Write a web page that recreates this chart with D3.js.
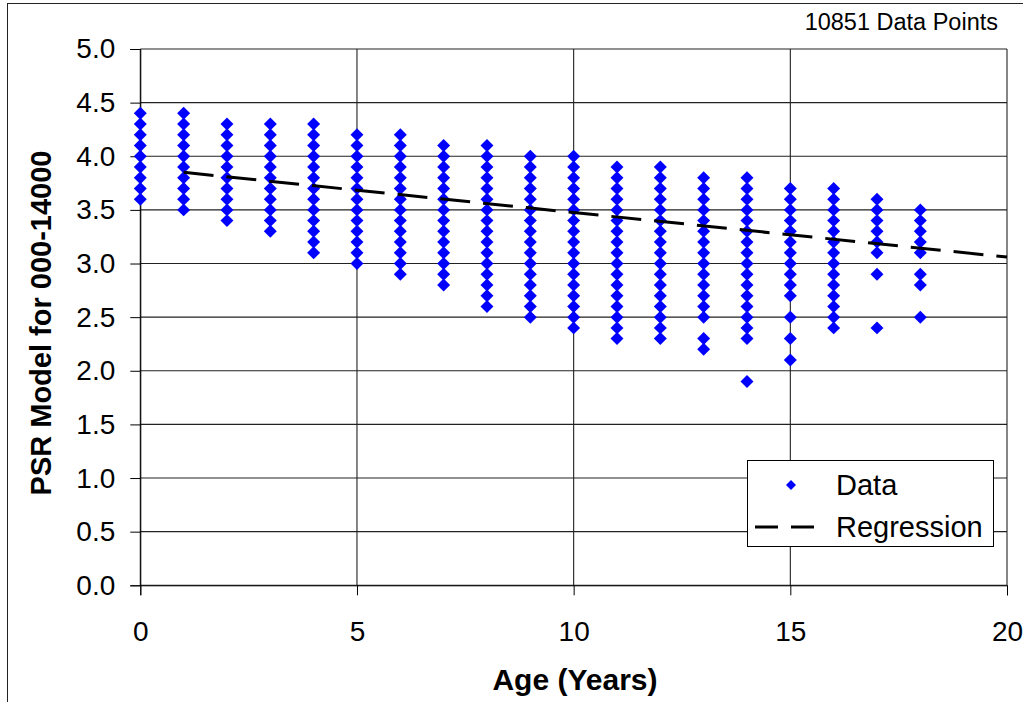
<!DOCTYPE html>
<html>
<head>
<meta charset="utf-8">
<script src="https://cdn.jsdelivr.net/npm/d3@7"></script>
<style>
  html, body { margin: 0; padding: 0; background: #fff; }
  svg { display: block; font-family: "Liberation Sans", Arial, sans-serif; }
</style>
</head>
<body>
<svg id="chart" width="1023" height="702"></svg>
<script>
// PSR model values observed at each age (years)
const ages = [0, 1, 2, 3, 4, 5, 6, 7, 8, 9, 10, 11, 12, 13, 14, 15, 16, 17, 18];
const psrAge0  = [4.4, 4.3, 4.2, 4.1, 4.0, 3.9, 3.8, 3.7, 3.6];
const psrAge1  = [4.4, 4.3, 4.2, 4.1, 4.0, 3.9, 3.8, 3.7, 3.6, 3.5];
const psrAge2  = [4.3, 4.2, 4.1, 4.0, 3.9, 3.8, 3.7, 3.6, 3.5, 3.4];
const psrAge3  = [4.3, 4.2, 4.1, 4.0, 3.9, 3.8, 3.7, 3.6, 3.5, 3.4, 3.3];
const psrAge4  = [4.3, 4.2, 4.1, 4.0, 3.9, 3.8, 3.7, 3.6, 3.5, 3.4, 3.3, 3.2, 3.1];
const psrAge5  = [4.2, 4.1, 4.0, 3.9, 3.8, 3.7, 3.6, 3.5, 3.4, 3.3, 3.2, 3.1, 3.0];
const psrAge6  = [4.2, 4.1, 4.0, 3.9, 3.8, 3.7, 3.6, 3.5, 3.4, 3.3, 3.2, 3.1, 3.0, 2.9];
const psrAge7  = [4.1, 4.0, 3.9, 3.8, 3.7, 3.6, 3.5, 3.4, 3.3, 3.2, 3.1, 3.0, 2.9, 2.8];
const psrAge8  = [4.1, 4.0, 3.9, 3.8, 3.7, 3.6, 3.5, 3.4, 3.3, 3.2, 3.1, 3.0, 2.9, 2.8, 2.7, 2.6];
const psrAge9  = [4.0, 3.9, 3.8, 3.7, 3.6, 3.5, 3.4, 3.3, 3.2, 3.1, 3.0, 2.9, 2.8, 2.7, 2.6, 2.5];
const psrAge10 = [4.0, 3.9, 3.8, 3.7, 3.6, 3.5, 3.4, 3.3, 3.2, 3.1, 3.0, 2.9, 2.8, 2.7, 2.6, 2.5, 2.4];
const psrAge11 = [3.9, 3.8, 3.7, 3.6, 3.5, 3.4, 3.3, 3.2, 3.1, 3.0, 2.9, 2.8, 2.7, 2.6, 2.5, 2.4, 2.3];
const psrAge12 = [3.9, 3.8, 3.7, 3.6, 3.5, 3.4, 3.3, 3.2, 3.1, 3.0, 2.9, 2.8, 2.7, 2.6, 2.5, 2.4, 2.3];
const psrAge13 = [3.8, 3.7, 3.6, 3.5, 3.4, 3.3, 3.2, 3.1, 3.0, 2.9, 2.8, 2.7, 2.6, 2.5, 2.3, 2.2];
const psrAge14 = [3.8, 3.7, 3.6, 3.5, 3.4, 3.3, 3.2, 3.1, 3.0, 2.9, 2.8, 2.7, 2.6, 2.5, 2.4, 2.3, 1.9];
const psrAge15 = [3.7, 3.6, 3.5, 3.4, 3.3, 3.2, 3.1, 3.0, 2.9, 2.8, 2.7, 2.5, 2.3, 2.1];
const psrAge16 = [3.7, 3.6, 3.5, 3.4, 3.3, 3.2, 3.1, 3.0, 2.9, 2.8, 2.7, 2.6, 2.5, 2.4];
const psrAge17 = [3.6, 3.5, 3.4, 3.3, 3.2, 3.1, 2.9, 2.4];
const psrAge18 = [3.5, 3.4, 3.3, 3.2, 3.1, 2.9, 2.8, 2.5];
const psrColumns = [psrAge0, psrAge1, psrAge2, psrAge3, psrAge4, psrAge5, psrAge6, psrAge7,
  psrAge8, psrAge9, psrAge10, psrAge11, psrAge12, psrAge13, psrAge14, psrAge15, psrAge16,
  psrAge17, psrAge18];

// Linear regression fit, endpoints
const regressionAge = [1, 20];
const regressionPsr = [3.85, 3.06];

const xTicks = [0, 5, 10, 15, 20];
const yTicks = [0.0, 0.5, 1.0, 1.5, 2.0, 2.5, 3.0, 3.5, 4.0, 4.5, 5.0];

const svg = d3.select("#chart");

// outer chart frame
svg.append("rect")
  .attr("x", 7.5).attr("y", 3.5)
  .attr("width", 1030).attr("height", 720)
  .attr("fill", "#fff").attr("stroke", "#222").attr("stroke-width", 1);

const x = d3.scaleLinear().domain([0, 20]).range([140.3, 1007]);
const y = d3.scaleLinear().domain([0, 5]).range([585.3, 49]);

// grid
const grid = svg.append("g");
grid.selectAll("line.h").data(yTicks).join("line")
  .attr("class", "h")
  .attr("x1", x(0)).attr("x2", x(20))
  .attr("y1", d => y(d)).attr("y2", d => y(d))
  .attr("stroke", "#222").attr("stroke-width", 1.1);
grid.selectAll("line.v").data(xTicks).join("line")
  .attr("class", "v")
  .attr("y1", y(0)).attr("y2", y(5))
  .attr("x1", d => x(d)).attr("x2", d => x(d))
  .attr("stroke", "#222").attr("stroke-width", 1.1);

// axes
const xAxis = svg.append("g")
  .attr("transform", `translate(0,${y(0)})`)
  .call(d3.axisBottom(x).tickValues(xTicks).tickFormat(d3.format("d")).tickSize(10).tickPadding(26));
const yAxis = svg.append("g")
  .attr("transform", `translate(${x(0)},0)`)
  .call(d3.axisLeft(y).tickValues(yTicks).tickFormat(d3.format(".1f")).tickSize(10).tickPadding(15));
[xAxis, yAxis].forEach(a => {
  a.select(".domain").attr("stroke", "#000");
  a.selectAll(".tick line").attr("stroke", "#000");
  a.selectAll(".tick text")
    .attr("fill", "#000")
    .style("font-family", "'Liberation Sans', Arial, sans-serif")
    .style("font-size", "28px");
});

// data points
const diamond = d3.symbol().type(d3.symbolSquare).size(84);
const points = [];
ages.forEach((a, i) => psrColumns[i].forEach(v => points.push({ age: a, psr: v })));
svg.append("g").selectAll("path").data(points).join("path")
  .attr("d", diamond)
  .attr("transform", d => `translate(${x(d.age)},${y(d.psr)}) rotate(45)`)
  .attr("fill", "#0000ff");

// regression line
const regData = regressionAge.map((a, i) => ({ age: a, psr: regressionPsr[i] }));
svg.append("path")
  .datum(regData)
  .attr("d", d3.line().x(d => x(d.age)).y(d => y(d.psr)))
  .attr("fill", "none")
  .attr("stroke", "#000")
  .attr("stroke-width", 3)
  .attr("stroke-dasharray", "30,13");

// axis titles
svg.append("text")
  .attr("x", 575).attr("y", 690)
  .attr("text-anchor", "middle")
  .style("font-size", "30px").style("font-weight", "bold")
  .text("Age (Years)");
svg.append("text")
  .attr("transform", "translate(51,323) rotate(-90)")
  .attr("text-anchor", "middle")
  .style("font-size", "29px").style("font-weight", "bold")
  .text("PSR Model for 000-14000");

// point count note
svg.append("text")
  .attr("x", 998).attr("y", 30)
  .attr("text-anchor", "end")
  .style("font-size", "23.5px")
  .text("10851 Data Points");

// legend
const legend = svg.append("g");
legend.append("rect")
  .attr("x", 747.5).attr("y", 460.5)
  .attr("width", 246).attr("height", 86)
  .attr("fill", "#fff").attr("stroke", "#000").attr("stroke-width", 1);
legend.append("path")
  .attr("d", d3.symbol().type(d3.symbolSquare).size(50))
  .attr("transform", "translate(791,485) rotate(45)")
  .attr("fill", "#0000ff");
legend.append("line")
  .attr("x1", 755).attr("x2", 815).attr("y1", 527).attr("y2", 527)
  .attr("stroke", "#000").attr("stroke-width", 3)
  .attr("stroke-dasharray", "23,13");
legend.append("text").attr("x", 836).attr("y", 485).attr("dy", "0.35em")
  .style("font-size", "29px").text("Data");
legend.append("text").attr("x", 836).attr("y", 527).attr("dy", "0.35em")
  .style("font-size", "29px").text("Regression");
</script>
</body>
</html>
